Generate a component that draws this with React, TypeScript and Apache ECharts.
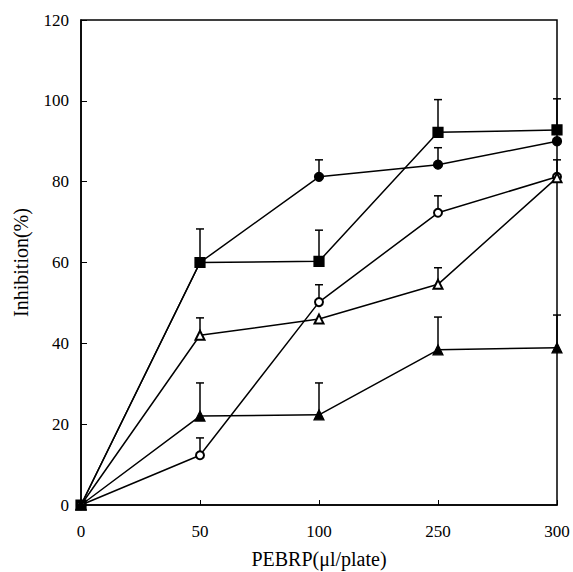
import React, { useEffect, useRef } from "react";
import * as echarts from "echarts";

const categories = ["0", "50", "100", "250", "300"];
const yTicks = [0, 20, 40, 60, 80, 100, 120];

const squareVals = [0, 60, 60.3, 92.2, 92.8];
const squareErrTop = [null, 68.3, 68, 100.3, 100.5];

const circleVals = [0, 60, 81.2, 84.2, 90];
const circleErrTop = [null, null, 85.4, 88.4, null];

const openCircleVals = [0, 12.3, 50.2, 72.3, 81.2];
const openCircleErrTop = [null, 16.6, 54.5, 76.5, 85.4];

const openTriVals = [0, 42, 46, 54.6, 81];
const openTriErrTop = [null, 46.3, null, 58.7, null];

const filledTriVals = [0, 22, 22.3, 38.4, 38.9];
const filledTriErrTop = [null, 30.2, 30.2, 46.5, 47];

const FONT = "Times New Roman";

function errData(vals: number[], tops: (number | null)[]) {
  const out: number[][] = [];
  tops.forEach((t, i) => {
    if (t !== null) out.push([i, vals[i], t]);
  });
  return out;
}

function errSeries(vals: number[], tops: (number | null)[]) {
  return {
    type: "custom",
    z: 1,
    silent: true,
    data: errData(vals, tops),
    encode: { x: 0, y: [1, 2] },
    renderItem: (params: any, api: any) => {
      const x = api.value(0);
      const lo = api.coord([x, api.value(1)]);
      const hi = api.coord([x, api.value(2)]);
      const cap = 4;
      return {
        type: "group",
        children: [
          {
            type: "line",
            shape: { x1: lo[0], y1: lo[1], x2: hi[0], y2: hi[1] },
            style: { stroke: "#000", lineWidth: 1.5 },
          },
          {
            type: "line",
            shape: { x1: hi[0] - cap, y1: hi[1], x2: hi[0] + cap, y2: hi[1] },
            style: { stroke: "#000", lineWidth: 1.5 },
          },
        ],
      };
    },
  };
}

function lineSeries(vals: number[], symbol: string, size: number) {
  return {
    type: "line",
    z: 3,
    data: vals,
    symbol,
    symbolSize: size,
    showAllSymbol: true,
    lineStyle: { color: "#000", width: 1.5 },
    itemStyle: { color: "#000", borderColor: "#000", borderWidth: 1.2 },
  };
}

export default function App() {
  const ref = useRef<HTMLDivElement>(null);
  useEffect(() => {
    if (!ref.current) return;
    const chart = echarts.init(ref.current, undefined, { renderer: "svg" });
    chart.setOption({
      animation: false,
      backgroundColor: "#fff",
      textStyle: { fontFamily: FONT },
      grid: {
        left: 81,
        right: 16,
        top: 20,
        bottom: 67,
        outerBoundsMode: "none",
        show: true,
        borderColor: "#000",
        borderWidth: 1.5,
        backgroundColor: "transparent",
      },
      xAxis: {
        type: "category",
        data: categories,
        boundaryGap: false,
        name: "PEBRP(μl/plate)",
        nameLocation: "middle",
        nameGap: 44,
        nameTextStyle: { fontFamily: FONT, fontSize: 20, color: "#000" },
        axisLine: { lineStyle: { color: "#000", width: 1.5 } },
        axisTick: { inside: true, length: 5, lineStyle: { color: "#000" } },
        axisLabel: { fontFamily: FONT, fontSize: 17, color: "#000", margin: 18 },
        splitLine: { show: false },
      },
      yAxis: {
        type: "value",
        min: yTicks[0],
        max: yTicks[yTicks.length - 1],
        interval: 20,
        name: "Inhibition(%)",
        nameLocation: "middle",
        nameGap: 50,
        nameTextStyle: { fontFamily: FONT, fontSize: 20, color: "#000" },
        axisLine: { show: true, lineStyle: { color: "#000", width: 1.5 } },
        axisTick: { show: true, inside: true, length: 6, lineStyle: { color: "#000" } },
        axisLabel: { fontFamily: FONT, fontSize: 17, color: "#000", margin: 12 },
        splitLine: { show: false },
      },
      series: [
        errSeries(squareVals, squareErrTop),
        errSeries(circleVals, circleErrTop),
        errSeries(openCircleVals, openCircleErrTop),
        errSeries(openTriVals, openTriErrTop),
        errSeries(filledTriVals, filledTriErrTop),
        lineSeries(squareVals, "rect", 10),
        lineSeries(circleVals, "circle", 9),
        lineSeries(openCircleVals, "emptyCircle", 8),
        lineSeries(openTriVals, "emptyTriangle", 9),
        lineSeries(filledTriVals, "triangle", 10),
      ],
    });
    return () => chart.dispose();
  }, []);
  return (
    <div
      ref={ref}
      style={{ position: "absolute", left: 0, top: 0, width: 573, height: 572 }}
    />
  );
}
